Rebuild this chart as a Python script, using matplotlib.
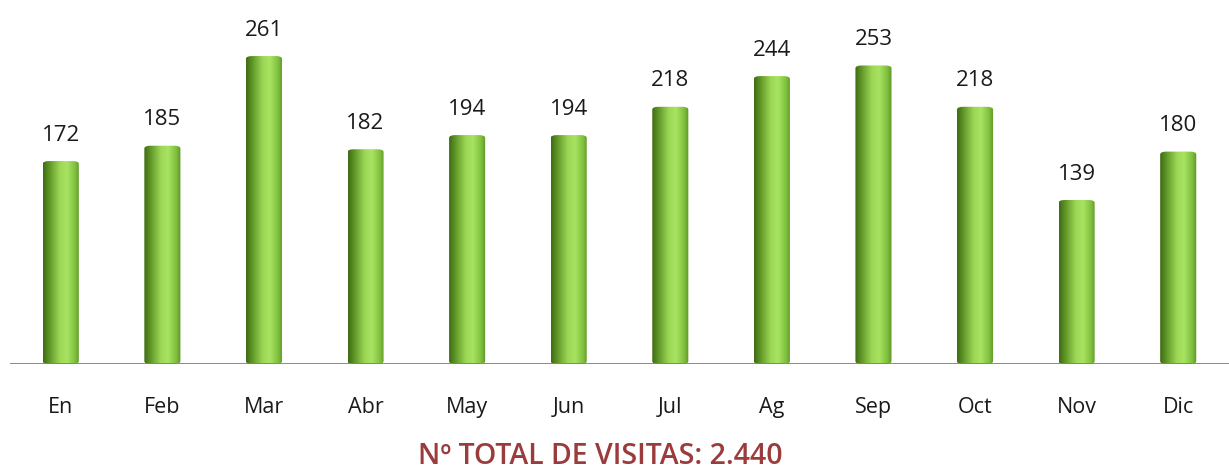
import numpy as np
import matplotlib.pyplot as plt
from matplotlib.colors import LinearSegmentedColormap
from matplotlib.patches import FancyBboxPatch

# datos mensuales de visitas
meses = ['En', 'Feb', 'Mar', 'Abr', 'May', 'Jun', 'Jul', 'Ag', 'Sep', 'Oct', 'Nov', 'Dic']
visitas = [172, 185, 261, 182, 194, 194, 218, 244, 253, 218, 139, 180]
titulo = 'Nº TOTAL DE VISITAS: 2.440'

plt.rcParams['font.family'] = ['Open Sans', 'DejaVu Sans']

fig = plt.figure(figsize=(12.29, 4.76), dpi=100)
ax = fig.add_axes([10 / 1229, 112 / 476, 1219 / 1229, 364 / 476])

x = np.arange(len(meses))
ancho = 0.355
ax.set_xlim(-0.5, len(meses) - 0.5)
ax.set_ylim(0, 308.5)

# degradado horizontal tipo cilindro
cmap = LinearSegmentedColormap.from_list('cil', [
    (0.0, '#3f6b14'), (0.15, '#5c9224'), (0.45, '#9bd655'),
    (0.65, '#a8e462'), (0.88, '#7fbf3e'), (1.0, '#5e9528')])
grad = np.linspace(0, 1, 100).reshape(1, -1)

barras = ax.bar(x, visitas, width=ancho, color='none', edgecolor='none')
for b, v in zip(barras, visitas):
    x0 = b.get_x()
    w = b.get_width()
    clip = FancyBboxPatch((x0, 0), w, v, boxstyle='round,pad=0,rounding_size=0.06',
                          mutation_aspect=40, transform=ax.transData,
                          facecolor='none', edgecolor='none')
    ax.add_patch(clip)
    im = ax.imshow(grad, cmap=cmap, aspect='auto', extent=(x0, x0 + w, 0, v),
                   interpolation='bicubic', zorder=2)
    im.set_clip_path(clip)
    ax.text(b.get_x() + w / 2, v + 13, str(v), ha='center', va='bottom',
            fontsize=16, color='#1a1a1a')

# línea base
ax.axhline(0, color='#808080', linewidth=2, zorder=3)

ax.set_xticks(x)
ax.set_xticklabels(meses, fontsize=15.5, color='#1a1a1a')
ax.tick_params(axis='x', length=0, pad=24)
ax.set_yticks([])
for s in ax.spines.values():
    s.set_visible(False)

fig.text(600 / 1229, 5 / 476, titulo, ha='center', va='bottom',
         fontsize=20.5, fontweight='semibold', color='#9b3b3b')

plt.savefig('out.png', dpi=100)
